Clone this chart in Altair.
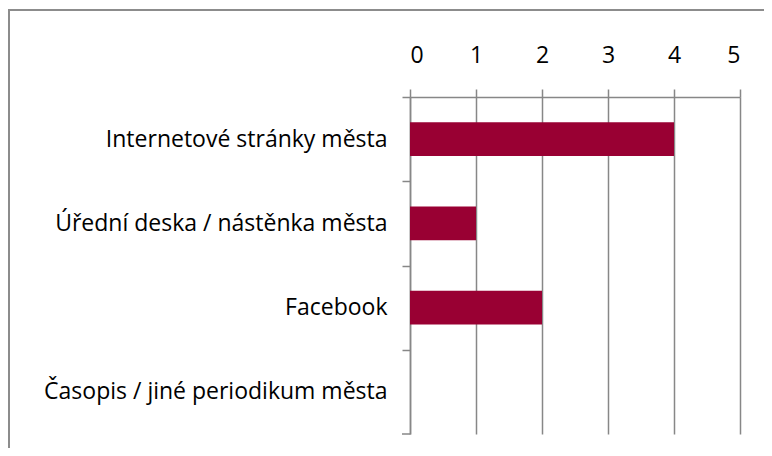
import altair as alt
import pandas as pd

categories = [
    "Internetové stránky města",
    "Úřední deska / nástěnka města",
    "Facebook",
    "Časopis / jiné periodikum města",
]
values = [4, 1, 2, 0]
x_ticks = [0, 1, 2, 3, 4, 5]

df = pd.DataFrame({"cat": categories, "val": values})

W, H = 330, 337
STEP = H / len(categories)
FONT = "Open Sans"
FS = 23
GRAY = "#878787"

bars = alt.Chart(df).mark_bar(color="#990033").encode(
    y=alt.Y(
        "cat:N",
        sort=categories,
        title=None,
        scale=alt.Scale(paddingInner=0.6, paddingOuter=0.3),
        axis=alt.Axis(
            orient="left",
            ticks=True,
            tickSize=8,
            tickColor=GRAY,
            tickWidth=1.5,
            tickOffset=-STEP / 2,
            labelOffset=STEP / 2,
            domainColor=GRAY,
            domainWidth=1.5,
            grid=False,
            labelFont=FONT,
            labelFontSize=FS,
            labelColor="#000000",
            labelPadding=15,
            labelLimit=400,
        ),
    ),
    x=alt.X(
        "val:Q",
        title=None,
        scale=alt.Scale(domain=[0, 5], nice=False),
        axis=alt.Axis(
            orient="top",
            values=x_ticks,
            format="d",
            tickSize=8,
            tickColor=GRAY,
            tickWidth=1.5,
            domainColor=GRAY,
            domainWidth=1.5,
            grid=True,
            gridColor=GRAY,
            gridWidth=1.5,
            labelFont=FONT,
            labelFontSize=FS,
            labelColor="#000000",
            labelPadding=22,
        ),
    ),
)

# closing tick at the bottom of the category axis
bottom_tick = alt.Chart(pd.DataFrame({"a": [0]})).mark_rule(
    color=GRAY, strokeWidth=1.5
).encode(x=alt.value(-8), x2=alt.value(0), y=alt.value(H))

border = alt.Chart(pd.DataFrame({"a": [0]})).mark_rect(
    fill=None, stroke="#8c8c8c", strokeWidth=2
).encode(
    x=alt.value(-401), x2=alt.value(W + 200), y=alt.value(-87), y2=alt.value(H + 200)
)

chart = alt.layer(border, bars, bottom_tick).properties(
    width=W,
    height=H,
    autosize=alt.AutoSizeParams(type="none"),
    padding={"left": 402, "top": 89, "right": 24, "bottom": 14},
).configure_view(stroke=None)

chart.save("out.html", embed_options={"renderer": "svg", "actions": False})
